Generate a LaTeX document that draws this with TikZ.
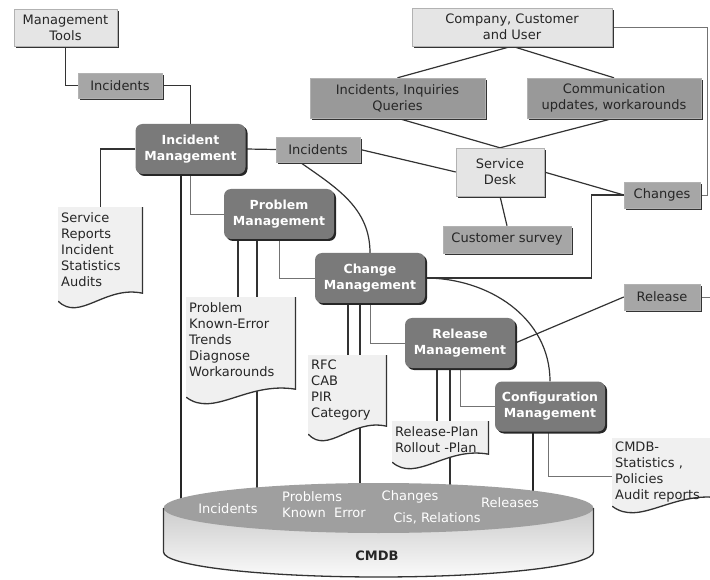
\documentclass[tikz,border=0pt]{standalone}
\usepackage{fontspec}
\setmainfont{DejaVu Sans}
\usetikzlibrary{calc,shadows}
\pgfdeclarelayer{background}
\pgfsetlayers{background,main}
\begin{document}
\begin{tikzpicture}[x=1pt,y=-1pt,
    every node/.style={font=\fontsize{13}{16}\selectfont, align=center, inner sep=2pt, text=black!85},
    box/.style={draw=gray!60, line width=0.4pt,
        drop shadow={shadow xshift=1.6pt, shadow yshift=-1.6pt, fill=black!80, opacity=1}},
    lightbox/.style={box, fill=gray!20},
    midbox/.style={box, fill=gray!70},
    darkbox/.style={box, fill=gray!80},
    mgmt/.style={rounded corners=7pt, fill=black!52, text=white,
        font=\fontsize{12.5}{16}\selectfont\bfseries, minimum width=110pt, minimum height=50pt,
        drop shadow={shadow xshift=2pt, shadow yshift=-2pt, fill=black!85, opacity=1}},
    doc/.style={inner sep=0pt, path picture={
        \coordinate (nw) at (path picture bounding box.north west);
        \coordinate (ne) at (path picture bounding box.north east);
        \coordinate (sw) at (path picture bounding box.south west);
        \coordinate (se) at (path picture bounding box.south east);
        \fill[black!6] (nw) -- (ne) -- ($(se)+(0pt,17pt)$)
            .. controls ($(sw)!0.55!(se)+(0pt,25pt)$) and ($(sw)!0.25!(se)+(0pt,-12pt)$) .. ($(sw)+(0pt,9pt)$) -- cycle;
        \draw[line width=1.3pt, black!80] ($(ne)+(-0.7pt,0pt)$) -- ($(se)+(-0.7pt,17pt)$)
            .. controls ($(sw)!0.55!(se)+(0pt,25pt)$) and ($(sw)!0.25!(se)+(0pt,-12pt)$) .. ($(sw)+(0pt,9pt)$);
    }},
    doctext/.style={align=left, anchor=north west, inner sep=3pt},
    link/.style={line width=1.2pt, black!80},
    thicklink/.style={line width=2pt, black!85},
    thinlink/.style={line width=0.8pt, black!55}]

\useasboundingbox (0,0) rectangle (710,580);

% boxes
\node[lightbox, minimum width=103pt, minimum height=37pt] (mtools) at (65.5,27.5) {Management\\Tools};
\node[midbox, minimum width=84pt, minimum height=25pt] (inc1) at (120,85.5) {Incidents};
\node[mgmt] (incmgmt) at (190.5,149) {Incident\\Management};
\node[midbox, minimum width=84pt, minimum height=25pt] (inc2) at (318,149.5) {Incidents};
\node[lightbox, minimum width=200pt, minimum height=38pt] (company) at (512,27) {Company, Customer\\and User};
\node[darkbox, minimum width=175pt, minimum height=40pt] (incq) at (397.5,98) {Incidents, Inquiries\\Queries};
\node[darkbox, minimum width=174pt, minimum height=40pt] (comm) at (614,98) {Communication\\updates, workarounds};
\node[lightbox, minimum width=88pt, minimum height=48pt] (sdesk) at (500,172) {Service\\Desk};
\node[midbox, minimum width=128pt, minimum height=27pt] (survey) at (507,239.5) {Customer survey};
\node[midbox, minimum width=76pt, minimum height=26pt] (changes) at (662,195) {Changes};
\node[midbox, minimum width=76pt, minimum height=26pt] (release) at (662,297) {Release};
\node[mgmt] (probmgmt) at (279,214) {Problem\\Management};
\node[mgmt] (chgmgmt) at (370,278) {Change\\Management};
\node[mgmt] (relmgmt) at (460,343) {Release\\Management};
\node[mgmt] (cfgmgmt) at (550,406.5) {Configuration\\Management};

% documents
\node[doc, minimum width=85pt, minimum height=103pt, anchor=north west] (srep) at (58,207) {};
\node[doctext] (srep-t) at ([yshift=-2pt]srep.north west) {Service\\Reports\\Incident\\Statistics\\Audits};
\node[doc, minimum width=110pt, minimum height=109pt, anchor=north west] (pdoc) at (186,297) {};
\node[doctext] (pdoc-t) at ([yshift=-2pt]pdoc.north west) {Problem\\Known-Error\\Trends\\Diagnose\\Workarounds};
\node[doc, minimum width=79pt, minimum height=88pt, anchor=north west] (rfc) at (308,355) {};
\node[doctext] (rfc-t) at ([yshift=-2pt]rfc.north west) {RFC\\CAB\\PIR\\Category};
\node[doc, minimum width=97pt, minimum height=50pt, anchor=north west] (rdoc) at (392,421) {};
\node[doctext] (rdoc-t) at ([yshift=-2pt]rdoc.north west) {Release-Plan\\Rollout -Plan};
\node[doc, minimum width=110pt, minimum height=77pt, anchor=north west] (cdoc) at (612,438) {};
\node[doctext] (cdoc-t) at ([yshift=-1pt]cdoc.north west) {CMDB-\\Statistics ,\\Policies\\Audit reports};

% CMDB
\coordinate (dbtop) at (378.5,508);
\shade[top color=gray!40, bottom color=gray!4] (163.5,508) -- (163.5,552) arc (180:360:215pt and 25pt) -- (593.5,508) -- cycle;
\fill[gray!75] (dbtop) ellipse (215pt and 25pt);
\draw[line width=1.3pt, black!80] (163.5,508) -- (163.5,552) arc (180:360:215pt and 25pt) -- (593.5,508);
\node[text=white] (dbinc) at (228,509) {Incidents};
\node[text=white, align=left] (dbprob) at (324,505) {Problems\\Known~ Error};
\node[text=white] (dbchg) at (410,497) {Changes};
\node[text=white] (dbci) at (437,518) {Cis, Relations};
\node[text=white] (dbrel) at (510,503) {Releases};
\node[font=\fontsize{13}{16}\selectfont\bfseries] (cmdb) at (377,556) {CMDB};

\begin{pgfonlayer}{background}
\draw[link] (mtools.south) |- (inc1.west);
\draw[link] (inc1.east) -| (incmgmt.north);
\draw[link] (incmgmt.west) -| (srep.north);
\draw[thicklink] ([xshift=-9.5pt]incmgmt.south) -- ([xshift=-9.5pt]incmgmt.south |- dbtop);
\draw[thinlink] (incmgmt.south) |- (probmgmt.west);
\draw[link] (incmgmt.east) -- (inc2.west);
\draw[link] (inc2.east) -- (sdesk.west);
\draw[link] ([xshift=-18pt]inc2.south) to[out=-35,in=90] (chgmgmt.north);

\draw[link] ([xshift=-41pt]probmgmt.south) -- ([xshift=-41pt]probmgmt.south |- pdoc.north);
\draw[link] ([xshift=-22pt]probmgmt.south) -- ([xshift=-22pt]probmgmt.south |- pdoc.north);
\draw[link] ([xshift=-22pt]probmgmt.south |- pdoc.center) -- ([xshift=-22pt]probmgmt.south |- dbtop);
\draw[thinlink] (probmgmt.south) |- (chgmgmt.west);

\draw[link] ([xshift=-22pt]chgmgmt.south) -- ([xshift=-22pt]chgmgmt.south |- rfc.north);
\draw[link] ([xshift=-10pt]chgmgmt.south) -- ([xshift=-10pt]chgmgmt.south |- rfc.north);
\draw[link] ([xshift=-10pt]chgmgmt.south |- rfc.center) -- ([xshift=-10pt]chgmgmt.south |- dbtop);
\draw[thinlink] (chgmgmt.south) |- (relmgmt.west);
\draw[link] (chgmgmt.east) -| ([xshift=-32pt]changes.west) -- (changes.west);
\draw[link] (chgmgmt.east) to[out=0,in=90] (cfgmgmt.north);

\draw[link] ([xshift=-23pt]relmgmt.south) -- ([xshift=-23pt]relmgmt.south |- rdoc.north);
\draw[link] ([xshift=-10pt]relmgmt.south) -- ([xshift=-10pt]relmgmt.south |- rdoc.north);
\draw[link] ([xshift=-10pt]relmgmt.south |- rdoc.center) -- ([xshift=-10pt]relmgmt.south |- dbtop);
\draw[thinlink] (relmgmt.south) |- (cfgmgmt.west);
\draw[link] (relmgmt.east) -- (release.west);

\draw[thicklink] ([xshift=-17pt]cfgmgmt.south) -- ([xshift=-17pt]cfgmgmt.south |- dbtop);
\draw[thinlink] ([xshift=-2pt]cfgmgmt.south) |- (cdoc.west);

\draw[link] (company.south) -- (incq.north);
\draw[link] (company.south) -- (comm.north);
\draw[link] (incq.south) -- (sdesk.north);
\draw[link] (comm.south) -- (sdesk.north);
\draw[link] (sdesk.south) -- (survey.north);
\draw[link] (sdesk.east) -- (changes.west);
\draw[thinlink] (changes.east) -- ++(7,0) |- (company.east);
\draw[thinlink] (release.east) -- ++(12,0);
\end{pgfonlayer}
\end{tikzpicture}
\end{document}
